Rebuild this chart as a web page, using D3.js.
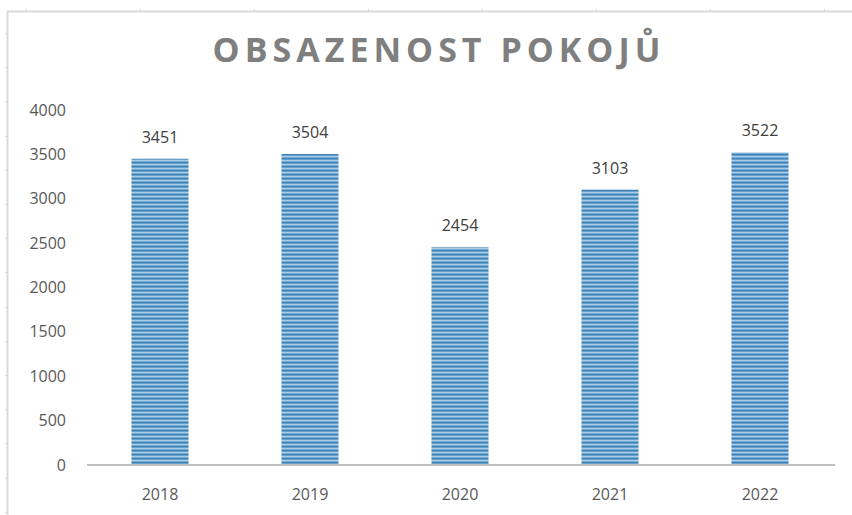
<!DOCTYPE html>
<html>
<head>
<meta charset="utf-8">
<style>
  body { margin: 0; background: #fff; }
  text { font-family: "Open Sans", "DejaVu Sans", sans-serif; }
</style>
</head>
<body>
<svg width="852" height="515"></svg>
<script src="https://d3js.org/d3.v7.min.js"></script>
<script>
    var years = ["2018", "2019", "2020", "2021", "2022"];
    var rooms = [3451, 3504, 2454, 3103, 3522];
    var yTicks = [0, 500, 1000, 1500, 2000, 2500, 3000, 3500, 4000];
    var title = "OBSAZENOST POKOJŮ";

    var svg = d3.select("svg");

    var margin = { top: 110, right: 17, bottom: 50, left: 85 };
    var width = +svg.attr("width") - margin.left - margin.right;
    var height = +svg.attr("height") - margin.top - margin.bottom;

    // striped fill like the excel texture
    var defs = svg.append("defs");
    var pat = defs.append("pattern")
        .attr("id", "stripes")
        .attr("patternUnits", "userSpaceOnUse")
        .attr("width", 10).attr("height", 4);
    var stripeCols = ["#3d80b3", "#68a1cd", "#aacbe5", "#78add6"];
    stripeCols.forEach(function(c, i) {
        pat.append("rect").attr("x", 0).attr("y", i).attr("width", 10).attr("height", 1).attr("fill", c);
    });

    // page frame with ruler ticks
    var frame = svg.append("g").attr("stroke", "#d9d9d9");
    frame.append("line").attr("x1", 7).attr("x2", 852).attr("y1", 11.5).attr("y2", 11.5).attr("stroke-width", 2);
    frame.append("line").attr("x1", 7.5).attr("x2", 7.5).attr("y1", 11).attr("y2", 515).attr("stroke-width", 2);
    d3.range(26, 852, 114).forEach(function(x) {
        frame.append("line").attr("x1", x + 0.5).attr("x2", x + 0.5).attr("y1", 9).attr("y2", 11);
    });
    d3.range(33, 515, 34.2).forEach(function(y) {
        frame.append("line").attr("x1", 5).attr("x2", 7).attr("y1", Math.round(y) + 0.5).attr("y2", Math.round(y) + 0.5);
    });

    var g = svg.append("g").attr("transform", "translate(" + margin.left + "," + margin.top + ")");

    var x = d3.scaleBand().domain(years).range([0, width]).paddingInner(0.62).paddingOuter(0.31);
    var y = d3.scaleLinear().domain([0, 4000]).range([height, 0]);

    svg.append("text")
        .attr("x", 439)
        .attr("y", 62)
        .attr("text-anchor", "middle")
        .attr("font-size", 34)
        .attr("font-weight", "bold")
        .attr("letter-spacing", 5)
        .attr("fill", "#7f7f7f")
        .text(title);

    // y axis labels, no line
    g.append("g")
        .selectAll("text")
        .data(yTicks)
        .enter().append("text")
        .attr("x", -19)
        .attr("y", function(d) { return y(d); })
        .attr("dy", "0.35em")
        .attr("text-anchor", "end")
        .attr("font-size", 16)
        .attr("fill", "#595959")
        .text(function(d) { return d; });

    g.selectAll(".bar")
        .data(rooms)
        .enter().append("rect")
        .attr("class", "bar")
        .attr("x", function(d, i) { return x(years[i]); })
        .attr("y", function(d) { return y(d); })
        .attr("width", x.bandwidth())
        .attr("height", function(d) { return height - y(d); })
        .attr("fill", "url(#stripes)");

    g.selectAll(".lbl")
        .data(rooms)
        .enter().append("text")
        .attr("class", "lbl")
        .attr("x", function(d, i) { return x(years[i]) + x.bandwidth() / 2; })
        .attr("y", function(d) { return y(d) - 16; })
        .attr("text-anchor", "middle")
        .attr("font-size", 16)
        .attr("fill", "#404040")
        .text(function(d) { return d; });

    // x axis
    var xAxis = g.append("g").attr("transform", "translate(0," + height + ")");
    xAxis.append("line")
        .attr("x1", 2).attr("x2", width)
        .attr("stroke", "#bfbfbf").attr("stroke-width", 2);
    xAxis.selectAll("text")
        .data(years)
        .enter().append("text")
        .attr("x", function(d) { return x(d) + x.bandwidth() / 2; })
        .attr("y", 35)
        .attr("text-anchor", "middle")
        .attr("font-size", 16)
        .attr("fill", "#595959")
        .text(function(d) { return d; });
</script>
</body>
</html>
